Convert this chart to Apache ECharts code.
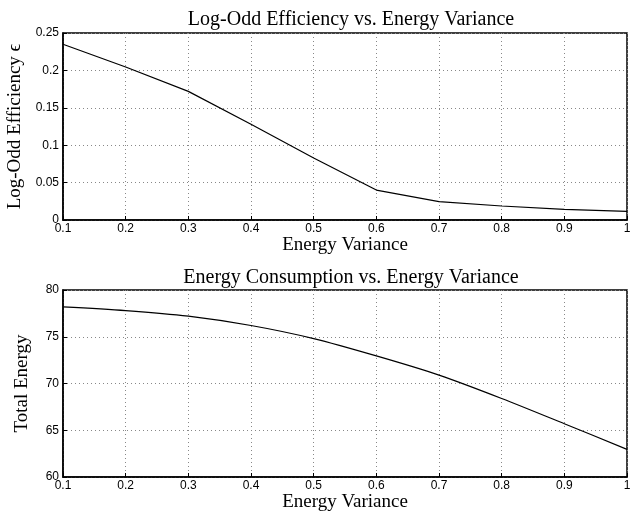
<!DOCTYPE html>
<html>
<head>
<meta charset="utf-8">
<script src="https://cdn.jsdelivr.net/npm/echarts@6/dist/echarts.min.js"></script>
<style>
html,body{margin:0;padding:0;background:#fff;}
#chart{width:641px;height:512px;}
</style>
</head>
<body>
<div id="chart"></div>
<script>
// energy variance steps
let variance = [0.1, 0.2, 0.3, 0.4, 0.5, 0.6, 0.7, 0.8, 0.9, 1.0];
// log-odd efficiency (top)
let efficiency = [0.235, 0.2045, 0.172, 0.128, 0.083, 0.040, 0.0245, 0.0187, 0.0143, 0.0116];
// total energy (bottom)
let totalEnergy = [78.2, 77.8, 77.2, 76.2, 74.8, 72.95, 70.9, 68.4, 65.7, 62.95];

let serif = '"Liberation Serif", "DejaVu Serif", serif';
let sans = '"Liberation Sans", Arial, sans-serif';

function xAx(idx){
    return {
        type: 'value',
        gridIndex: idx,
        min: 0.1,
        max: 1,
        interval: 0.1,
        name: 'Energy Variance',
        nameLocation: 'middle',
        nameGap: 16,
        nameTextStyle: {fontFamily: serif, fontSize: 19, color: '#000'},
        axisLine: {show: true, onZero: false, lineStyle: {color: '#000', width: 1.5}},
        axisTick: {show: true, inside: true, length: 4, lineStyle: {color: '#000'}},
        axisLabel: {
            fontFamily: sans, fontSize: 12, color: '#000', margin: 3,
            formatter: function(v){ return Math.abs(v - 1) < 1e-9 ? '1' : (+v.toFixed(1)).toString(); }
        },
        splitLine: {show: true, lineStyle: {color: '#888', type: [1, 3], width: 1}}
    };
}

function yAx(idx, min, max, step, name, fmt){
    return {
        type: 'value',
        gridIndex: idx,
        min: min,
        max: max,
        interval: step,
        name: name,
        nameLocation: 'middle',
        nameGap: 31,
        nameTextStyle: {fontFamily: serif, fontSize: 19, color: '#000'},
        axisLine: {show: true, lineStyle: {color: '#000', width: 1.5}},
        axisTick: {show: true, inside: true, length: 4, lineStyle: {color: '#000'}},
        axisLabel: {fontFamily: sans, fontSize: 12, color: '#000', margin: 4, formatter: fmt},
        splitLine: {show: true, lineStyle: {color: '#888', type: [1, 3], width: 1}}
    };
}

let chart = echarts.init(document.getElementById('chart'));
chart.setOption({
    backgroundColor: '#fff',
    animation: false,
    title: [
        {text: 'Log-Odd Efficiency vs. Energy Variance', left: 346, top: 5, textAlign: 'center',
         textStyle: {fontFamily: serif, fontSize: 20, fontWeight: 'normal', color: '#000'}},
        {text: 'Energy Consumption vs. Energy Variance', left: 346, top: 263, textAlign: 'center',
         textStyle: {fontFamily: serif, fontSize: 20, fontWeight: 'normal', color: '#000'}}
    ],
    grid: [
        {left: 63, right: 14, top: 33, height: 187, show: true, borderColor: '#000', borderWidth: 1.5, outerBoundsMode: 'none', containLabel: false},
        {left: 63, right: 14, top: 290, height: 187, show: true, borderColor: '#000', borderWidth: 1.5, outerBoundsMode: 'none', containLabel: false}
    ],
    xAxis: [xAx(0), xAx(1)],
    yAxis: [
        yAx(0, 0, 0.25, 0.05, 'Log-Odd Efficiency \u03f5', function(v){ return v === 0 ? '0' : (+v.toFixed(2)).toString(); }),
        yAx(1, 60, 80, 5, 'Total Energy', function(v){ return String(v); })
    ],
    series: [
        {
            type: 'line', xAxisIndex: 0, yAxisIndex: 0,
            data: variance.map(function(x, i){ return [x, efficiency[i]]; }),
            showSymbol: false, lineStyle: {color: '#000', width: 1.2}
        },
        {
            type: 'line', xAxisIndex: 1, yAxisIndex: 1, smooth: 0.3,
            data: variance.map(function(x, i){ return [x, totalEnergy[i]]; }),
            showSymbol: false, lineStyle: {color: '#000', width: 1.2}
        }
    ]
});
</script>
</body>
</html>
